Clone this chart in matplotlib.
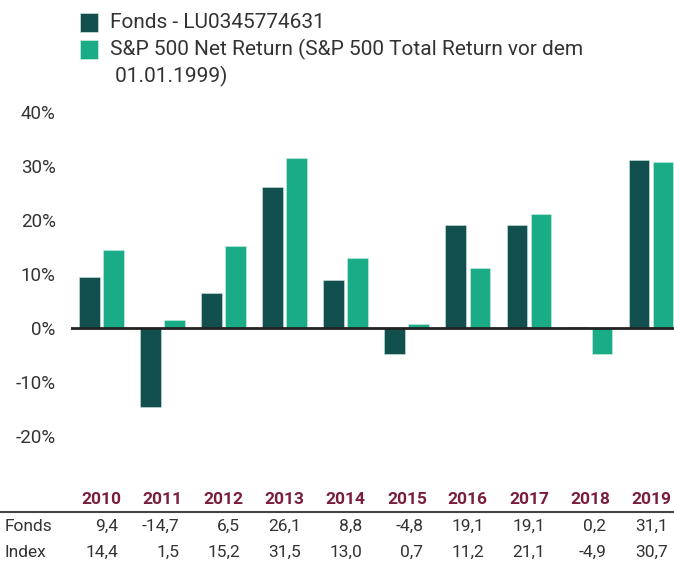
import numpy as np
import matplotlib
matplotlib.use("Agg")
import matplotlib.pyplot as plt
from matplotlib.transforms import blended_transform_factory
from matplotlib.patches import Rectangle
from matplotlib.lines import Line2D

plt.rcParams['font.family'] = ['Roboto', 'DejaVu Sans']

# daten
jahre = ['2010', '2011', '2012', '2013', '2014', '2015', '2016', '2017', '2018', '2019']
fonds = [9.4, -14.7, 6.5, 26.1, 8.8, -4.8, 19.1, 19.1, 0.2, 31.1]
index = [14.4, 1.5, 15.2, 31.5, 13.0, 0.7, 11.2, 21.1, -4.9, 30.7]
fonds_txt = ['9,4', '-14,7', '6,5', '26,1', '8,8', '-4,8', '19,1', '19,1', '0,2', '31,1']
index_txt = ['14,4', '1,5', '15,2', '31,5', '13,0', '0,7', '11,2', '21,1', '-4,9', '30,7']
label_fonds = 'Fonds - LU0345774631'
label_index = 'S&P 500 Net Return (S&P 500 Total Return vor dem'
label_index2 = ' 01.01.1999)'

dunkel = '#124f4f'
hell = '#1aab87'
rot = '#7a1d3e'
textfarbe = '#333333'

W, H = 674, 563
fig = plt.figure(figsize=(W / 100, H / 100), dpi=100)
ax = fig.add_axes([71 / W, 1 - 468.4 / H, 1 - 71 / W, (468.4 - 106.6) / H])

x = np.arange(len(jahre))
b = 0.34
off = 0.197
ax.bar(x - off, fonds, b, color=dunkel, edgecolor='#cfe3df', linewidth=0.4, zorder=2)
ax.bar(x + off, index, b, color=hell, edgecolor='#cdeee4', linewidth=0.4, zorder=2)
ax.axhline(0, color='#222222', lw=2, zorder=3)

ax.set_xlim(-0.5, 9.376)
ax.set_ylim(-26, 41)
ax.set_yticks(range(-20, 41, 10))
ax.set_yticklabels([f'{v}%' for v in range(-20, 41, 10)], fontsize=13.5, color=textfarbe)
ax.tick_params(axis='y', length=0, pad=11)
ax.set_xticks([])
for s in ax.spines.values():
    s.set_visible(False)

# tabelle unten
tr = blended_transform_factory(ax.transData, fig.transFigure)
for i in range(len(jahre)):
    fig.text(i, 1 - 500 / H, jahre[i], transform=tr, ha='center', va='center',
             fontsize=12.5, fontweight='bold', color=rot)
    fig.text(i + 0.27, 1 - 526.5 / H, fonds_txt[i], transform=tr, ha='right', va='center',
             fontsize=12.5, color=textfarbe)
    fig.text(i + 0.27, 1 - 552.5 / H, index_txt[i], transform=tr, ha='right', va='center',
             fontsize=12.5, color=textfarbe)
fig.text(5 / W, 1 - 526.5 / H, 'Fonds', ha='left', va='center', fontsize=12.5, color=textfarbe)
fig.text(5 / W, 1 - 552.5 / H, 'Index', ha='left', va='center', fontsize=12.5, color=textfarbe)
fig.add_artist(Line2D([0, 1], [1 - 512 / H, 1 - 512 / H], transform=fig.transFigure,
                      color='#444444', lw=1.5))

# legende
fig.add_artist(Rectangle((80 / W, 1 - 32 / H), 18 / W, 19 / H, transform=fig.transFigure,
                         facecolor=dunkel, edgecolor='#cfe3df', lw=0.5))
fig.add_artist(Rectangle((80 / W, 1 - 59 / H), 18 / W, 19 / H, transform=fig.transFigure,
                         facecolor=hell, edgecolor='#cdeee4', lw=0.5))
fig.text(110 / W, 1 - 22 / H, label_fonds, ha='left', va='center', fontsize=15, color=textfarbe)
fig.text(110 / W, 1 - 49 / H, label_index, ha='left', va='center', fontsize=15, color=textfarbe)
fig.text(110 / W, 1 - 76 / H, label_index2, ha='left', va='center', fontsize=15, color=textfarbe)

fig.savefig('out.png', dpi=100)
